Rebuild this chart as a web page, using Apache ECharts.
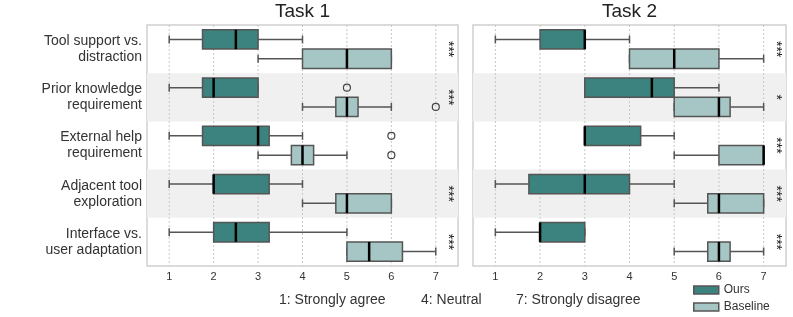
<!DOCTYPE html>
<html><head><meta charset="utf-8">
<script src="https://cdn.jsdelivr.net/npm/echarts@6/dist/echarts.min.js"></script>
<style>html,body{margin:0;padding:0;background:#fff}#c{width:793px;height:317px}</style>
</head><body><div id="c"></div>
<script>
const categories = ['Tool support vs.\ndistraction', 'Prior knowledge\nrequirement', 'External help\nrequirement', 'Adjacent tool\nexploration', 'Interface vs.\nuser adaptation'];
const tickValues = [1, 2, 3, 4, 5, 6, 7];
const panelTitles = ['Task 1', 'Task 2'];
const seriesNames = ['Ours', 'Baseline'];
// each row: [min, q1, median, q3, max]
const task1Ours = [[1, 1.75, 2.5, 3, 4], [1, 1.75, 2, 3, 3], [1, 1.75, 3, 3.25, 4], [1, 2, 2, 3.25, 4], [1, 2, 2.5, 3.25, 5]];
const task1Baseline = [[3, 4, 5, 6, 6], [4, 4.75, 5, 5.25, 6], [3, 3.75, 4, 4.25, 5], [4, 4.75, 5, 6, 6], [5, 5, 5.5, 6.25, 7]];
const task2Ours = [[1, 2, 3, 3, 4], [3, 3, 4.5, 5, 6], [3, 3, 3, 4.25, 5], [1, 1.75, 3, 4, 5], [1, 2, 2, 3, 3]];
const task2Baseline = [[4, 4, 5, 6, 7], [5, 5, 6, 6.25, 7], [5, 6, 7, 7, 7], [5, 5.75, 6, 7, 7], [5, 5.75, 6, 6.25, 7]];
// outliers: [categoryIndex, value]
const task1OursOutliers = [[1, 5], [2, 6]];
const task1BaselineOutliers = [[1, 7], [2, 6]];
const task2OursOutliers = [];
const task2BaselineOutliers = [];
const task1Significance = ['***', '***', '', '***', '***'];
const task2Significance = ['***', '*', '***', '***', '***'];
const significanceX = 7.27;
const scaleNotes = ['1: Strongly agree', '4: Neutral', '7: Strongly disagree'];

const FONT = '"Liberation Sans", Arial, sans-serif';
const colors = ['#3c837f', '#a6c6c5'];
const edge = '#555555';

function boxRender(sign, fill) {
  return function (params, api) {
    const ci = api.value(0);
    const band = api.size([0, 1])[1];
    const h = band * 0.4;
    const yc = api.coord([api.value(3), ci])[1] + sign * band * 0.2;
    const x = v => api.coord([v, ci])[0];
    const xmin = x(api.value(1)), xq1 = x(api.value(2)), xmed = x(api.value(3)), xq3 = x(api.value(4)), xmax = x(api.value(5));
    const ls = { stroke: edge, lineWidth: 1.5 };
    const cap = 4;
    return {
      type: 'group',
      children: [
        { type: 'line', shape: { x1: xmin, y1: yc, x2: xq1, y2: yc }, style: ls },
        { type: 'line', shape: { x1: xq3, y1: yc, x2: xmax, y2: yc }, style: ls },
        { type: 'line', shape: { x1: xmin, y1: yc - cap, x2: xmin, y2: yc + cap }, style: ls },
        { type: 'line', shape: { x1: xmax, y1: yc - cap, x2: xmax, y2: yc + cap }, style: ls },
        { type: 'rect', shape: { x: xq1, y: yc - h / 2, width: xq3 - xq1, height: h }, style: { fill: fill, stroke: edge, lineWidth: 1.5 } },
        { type: 'line', shape: { x1: xmed, y1: yc - h / 2, x2: xmed, y2: yc + h / 2 }, style: { stroke: '#000', lineWidth: 2.5 } }
      ]
    };
  };
}
function outlierRender(sign) {
  return function (params, api) {
    const ci = api.value(0);
    const band = api.size([0, 1])[1];
    const p = api.coord([api.value(1), ci]);
    return { type: 'circle', shape: { cx: p[0], cy: p[1] + sign * band * 0.2, r: 3.5 }, style: { fill: 'none', stroke: '#444', lineWidth: 1.2 } };
  };
}
function bandRender(params, api) {
  const ci = api.value(0);
  if (ci % 2 === 0) return null;
  const cs = params.coordSys;
  const band = api.size([0, 1])[1];
  const yc = api.coord([1, ci])[1];
  return { type: 'rect', shape: { x: cs.x, y: yc - band / 2, width: cs.width, height: band }, style: { fill: '#f0f0f0' } };
}
function gridLineRender(params, api) {
  const cs = params.coordSys;
  const xp = api.coord([api.value(0), 0])[0];
  return { type: 'line', shape: { x1: xp, y1: cs.y, x2: xp, y2: cs.y + cs.height }, style: { stroke: '#c8c8c8', lineWidth: 1, lineDash: [2, 2] } };
}
function sigRender(texts) {
  return function (params, api) {
    const t = texts[params.dataIndex];
    if (!t) return null;
    const p = api.coord([api.value(1), api.value(0)]);
    return { type: 'text', x: p[0], y: p[1], rotation: -Math.PI / 2, style: { text: t, fontSize: 14, fontFamily: FONT, fill: '#222', align: 'center', verticalAlign: 'middle' } };
  };
}

const panels = [
  { ours: task1Ours, base: task1Baseline, oo: task1OursOutliers, bo: task1BaselineOutliers, sig: task1Significance },
  { ours: task2Ours, base: task2Baseline, oo: task2OursOutliers, bo: task2BaselineOutliers, sig: task2Significance }
];
const grids = [
  { left: 147, top: 25, width: 311, height: 241 },
  { left: 473, top: 25, width: 313, height: 241 }
];

const series = [];
panels.forEach((p, k) => {
  const ax = { xAxisIndex: k, yAxisIndex: k, coordinateSystem: 'cartesian2d' };
  series.push(Object.assign({ type: 'custom', name: 'band' + k, z: 0, silent: true, renderItem: bandRender, encode: { y: 0 }, data: categories.map((c, i) => [i]) }, ax));
  series.push(Object.assign({ type: 'custom', name: 'grid' + k, z: 1, silent: true, renderItem: gridLineRender, encode: { x: 0, y: 1 }, data: tickValues.map(v => [v, 0]) }, ax));
  [p.ours, p.base].forEach((rows, s) => {
    series.push(Object.assign({
      type: 'custom', name: seriesNames[s], z: 3, renderItem: boxRender(s === 0 ? -1 : 1, colors[s]),
      itemStyle: { color: colors[s], borderColor: edge, borderWidth: 1.5 },
      encode: { y: 0, x: [1, 2, 3, 4, 5] },
      data: rows.map((r, i) => [i].concat(r))
    }, ax));
  });
  [p.oo, p.bo].forEach((pts, s) => {
    series.push(Object.assign({ type: 'custom', name: 'outliers' + s + k, z: 4, renderItem: outlierRender(s === 0 ? -1 : 1), encode: { y: 0, x: 1 }, data: pts }, ax));
  });
  series.push(Object.assign({ type: 'custom', name: 'sig' + k, z: 5, renderItem: sigRender(p.sig), encode: { y: 0, x: 1 }, data: p.sig.map((t, i) => [i, significanceX]) }, ax));
});

const option = {
  animation: false,
  backgroundColor: '#fff',
  textStyle: { fontFamily: FONT },
  title: panelTitles.map((t, k) => ({
    text: t, left: grids[k].left + grids[k].width / 2, top: 2, padding: 0, textAlign: 'center',
    textStyle: { fontSize: 19, fontWeight: 'normal', color: '#222', fontFamily: FONT }
  })),
  grid: grids.map(g => Object.assign({ show: true, borderColor: '#cfcfcf', borderWidth: 1.5, backgroundColor: '#fff' }, g)),
  xAxis: grids.map((g, k) => ({
    type: 'value', gridIndex: k, min: 0.5, max: 7.5, interval: 0.5,
    axisLine: { show: false }, axisTick: { show: false }, splitLine: { show: false },
    axisLabel: { fontSize: 11, color: '#333', margin: 5, fontFamily: FONT, formatter: v => (tickValues.indexOf(v) >= 0 ? String(v) : '') }
  })),
  yAxis: grids.map((g, k) => ({
    type: 'category', gridIndex: k, data: categories, inverse: true,
    axisLine: { show: false }, axisTick: { show: false }, splitLine: { show: false },
    axisLabel: { show: k === 0, fontSize: 14, lineHeight: 16, color: '#333', margin: 5, fontFamily: FONT, align: 'right' }
  })),
  legend: {
    data: seriesNames, orient: 'vertical', left: 693, top: 283, height: 34, padding: 0,
    itemWidth: 25, itemHeight: 8, itemGap: 3,
    icon: 'rect', selectedMode: false,
    itemStyle: { borderColor: edge, borderWidth: 1.5 },
    textStyle: { fontSize: 12, lineHeight: 14, color: '#333', fontFamily: FONT }
  },
  graphic: scaleNotes.map((t, i) => ({
    type: 'text', left: [279, 421, 516][i], top: 293,
    style: { text: t, fontSize: 14, fill: '#333', fontFamily: FONT }
  })),
  series: series
};
const chart = echarts.init(document.getElementById('c'), null, { renderer: 'canvas' });
chart.setOption(option);
</script></body></html>
